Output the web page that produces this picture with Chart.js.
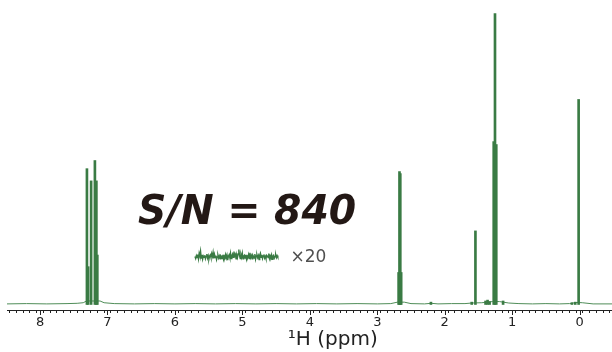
<!DOCTYPE html>
<html>
<head>
<meta charset="utf-8">
<script src="https://cdn.jsdelivr.net/npm/chart.js@4"></script>
<style>
  html, body { margin: 0; padding: 0; background: #fff; }
  #wrap { width: 612px; height: 352px; }
</style>
</head>
<body>
<div id="wrap"><canvas id="nmrChart"></canvas></div>
<script>
// peak lines (ppm, height; tallest line = 100)
const peakShifts  = [7.290, 7.272, 7.228, 7.172, 7.150, 7.136,
                     2.669, 2.656, 2.644, 2.631,
                     2.19, 1.585, 1.53, 1.38, 1.35, 1.32,
                     1.259, 1.240, 1.221, 1.12, 0.10, 0.05, 0.00];
const peakHeights = [46.7, 13, 42.5, 49.5, 42.5, 17,
                     11, 45.7, 45, 11,
                     0.8, 0.8, 25.3, 1.2, 1.5, 1.0,
                     56, 100, 55, 1.2, 0.6, 0.8, 70.5];

// baseline between the peaks
const baseShifts = [8.49, 8.2, 7.9, 7.6, 7.45, 7.36, 7.31, 7.11, 7.05, 6.9, 6.6, 6.3,
                    6.0, 5.7, 5.4, 5.1, 4.8, 4.5, 4.2, 3.9, 3.6, 3.3, 3.0, 2.8,
                    2.70, 2.60, 2.5, 2.3, 2.2, 2.1, 1.9, 1.7, 1.6, 1.45, 1.29, 1.19,
                    1.05, 0.9, 0.7, 0.5, 0.3, 0.15, 0.04, -0.04, -0.2, -0.48];
const baseLevels = [0.2, 0.3, 0.2, 0.3, 0.4, 0.6, 1.2, 1.2, 0.6, 0.3, 0.2, 0.3,
                    0.2, 0.3, 0.2, 0.3, 0.2, 0.3, 0.2, 0.3, 0.2, 0.3, 0.2, 0.3,
                    0.8, 0.8, 0.3, 0.2, 0.4, 0.2, 0.3, 0.3, 0.5, 0.6, 1.0, 1.0,
                    0.5, 0.3, 0.2, 0.3, 0.2, 0.3, 0.7, 0.6, 0.2, 0.2];

// baseline noise shown magnified x20
const noiseTrace = [0.1, -0.4, 0.3, -0.2, 0.6, -0.5, 0.9, 0.2, 1.4, -0.3, 0.5, -0.6,
                    0.2, -0.1, 0.4, -0.5, 0.1, 0.7, -0.3, 0.3, -0.6, 0.2, 0.5, -0.2,
                    0.8, 0.1, 1.1, -0.4, 0.6, -0.2, 0.3, -0.7, 0.0, 0.4, -0.3, 0.2,
                    -0.5, 0.3, 0.1, -0.4, 0.5, -0.6, 0.2, -0.1, 0.6, -0.3, 0.4, -0.8,
                    0.1, 0.5, -0.2, 0.9, -0.4, 0.3, 0.7, -0.1, 1.3, 0.2, 0.6, -0.5,
                    0.4, -0.2, 0.8, 1.8, 0.3, -0.4, 0.6, -0.1, 0.9, -0.5, 0.2, 0.4,
                    -0.3, 0.5, -0.6, 0.2, 0.0, 0.6, -0.4, 1.0, -0.2, 0.3, -0.5, 0.4,
                    0.1, -0.3, 0.7, -0.6, 0.2, 0.5, -0.2, 0.3, -0.7, 0.4, 0.9, -0.1,
                    0.5, -0.4, 0.2, 0.6, -0.3, 0.1, -0.5, 0.4, 0.2, -0.2, 0.8, -0.4,
                    0.3, -0.1, 0.5, -0.6, 0.2, 0.4, -0.3, 0.1, 0.5, -0.2, 0.3, -0.1];

const majorTicks = [8, 7, 6, 5, 4, 3, 2, 1, 0];
const axisTitle = '\u00b9H (ppm)';
const snLabel = 'S/N = 840';
const zoomLabel = '\u00d720';

const green = '#3a7b44';

const extras = {
  id: 'extras',
  afterDraw(chart) {
    const { ctx, scales: { x, y } } = chart;
    ctx.save();
    // whole-ppm ticks a bit longer than the 0.1 ppm ones
    ctx.strokeStyle = '#222';
    ctx.lineWidth = 1;
    majorTicks.forEach(v => {
      const px = Math.round(x.getPixelForValue(v)) + 0.5;
      ctx.beginPath();
      ctx.moveTo(px, y.bottom);
      ctx.lineTo(px, y.bottom + 5);
      ctx.stroke();
    });
    ctx.textBaseline = 'alphabetic';
    ctx.textAlign = 'center';
    // axis title sits a little right of the axis middle
    ctx.fillStyle = '#222';
    ctx.font = '20px "DejaVu Sans"';
    ctx.fillText(axisTitle, x.getPixelForValue(3.66), chart.height - 7);
    ctx.fillStyle = '#231815';
    ctx.font = 'italic bold 40px "DejaVu Sans"';
    ctx.fillText(snLabel, x.getPixelForValue(4.93), y.getPixelForValue(27.8), 218);
    ctx.fillStyle = '#505050';
    ctx.font = '17px "DejaVu Sans"';
    ctx.fillText(zoomLabel, x.getPixelForValue(4.02), y.getPixelForValue(14.7));
    ctx.restore();
  }
};

window.addEventListener('DOMContentLoaded', () => {
  const ctx = document.getElementById('nmrChart').getContext('2d');
  new Chart(ctx, {
    type: 'line',
    data: {
      datasets: [{
        type: 'bar',
        data: peakShifts.map((s, i) => ({ x: s, y: peakHeights[i] })),
        backgroundColor: green,
        borderWidth: 0,
        barThickness: 2
      }, {
        data: baseShifts.map((s, i) => ({ x: s, y: baseLevels[i] })),
        borderColor: '#4f8d58',
        borderWidth: 1,
        pointRadius: 0
      }, {
        data: noiseTrace.map((v, i) => ({ x: i, y: v })),
        xAxisID: 'xn',
        yAxisID: 'yn',
        borderColor: green,
        borderWidth: 1.4,
        pointRadius: 0
      }]
    },
    options: {
      responsive: true,
      maintainAspectRatio: false,
      animation: false,
      layout: { padding: { left: 7, right: 0, top: 0, bottom: 20 } },
      plugins: { legend: { display: false }, tooltip: { enabled: false } },
      scales: {
        x: {
          type: 'linear',
          reverse: true,
          min: -0.48,
          max: 8.49,
          offset: false,
          border: { color: '#222', width: 1 },
          grid: { drawOnChartArea: false, tickLength: 3, tickColor: '#222', tickWidth: 1 },
          ticks: {
            stepSize: 0.1,
            autoSkip: false,
            maxRotation: 0,
            includeBounds: false,
            padding: 3,
            color: '#222',
            font: { family: 'DejaVu Sans', size: 13, lineHeight: 1 },
            callback: v => Math.abs(v - Math.round(v)) < 1e-6 ? String(Math.round(v)) : ''
          }
        },
        y: { display: false, min: -1.9, max: 104.7 },
        xn: { type: 'linear', display: false, min: -270, max: 599 },
        yn: { display: false, min: -13.25, max: 64 }
      }
    },
    plugins: [extras]
  });
});
</script>
</body>
</html>
